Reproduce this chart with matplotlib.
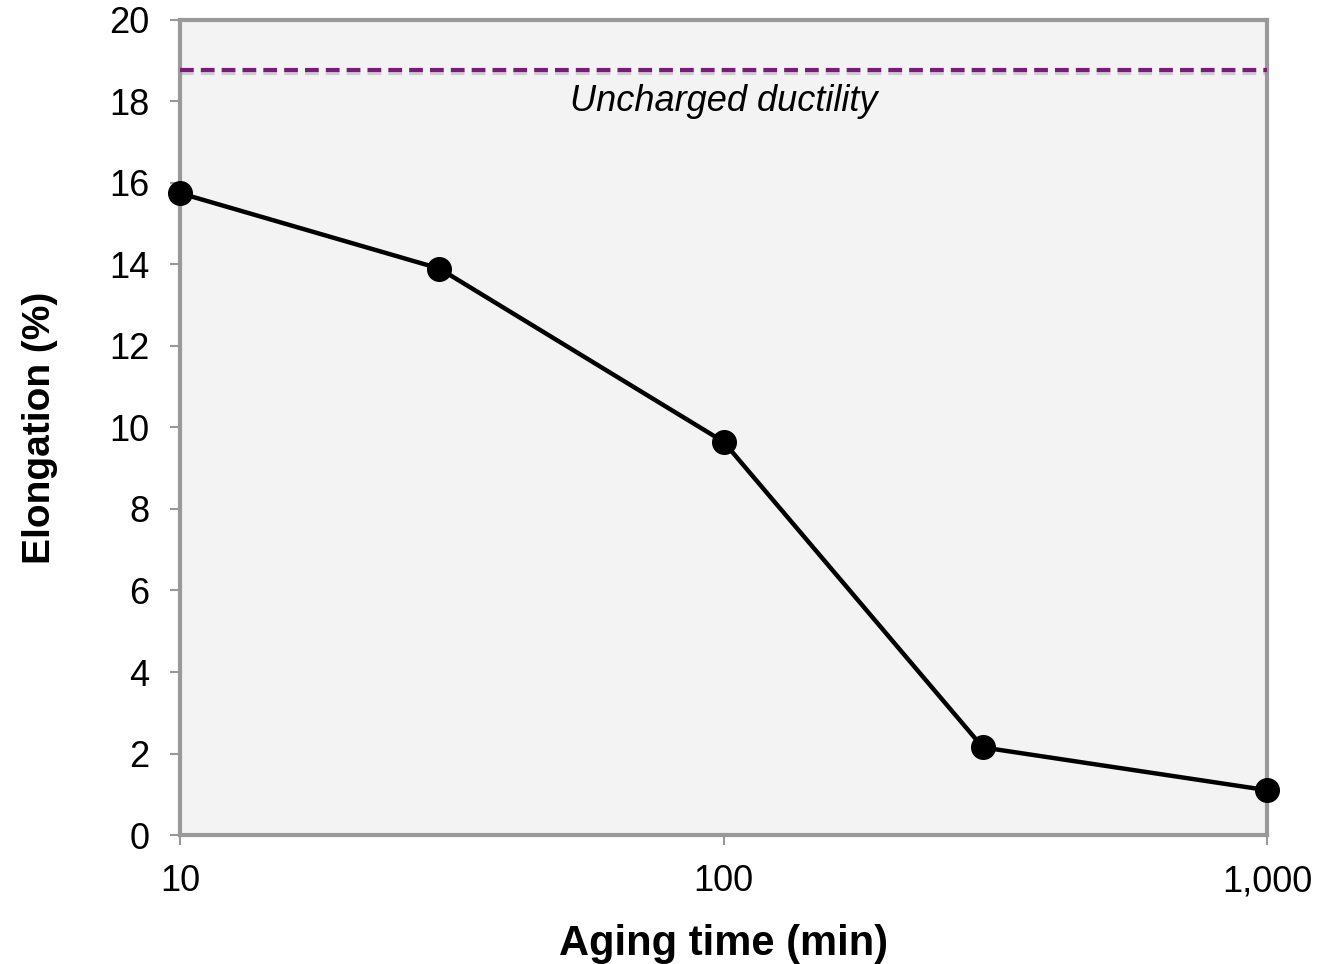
import numpy as np
import matplotlib.pyplot as plt
from matplotlib.ticker import FuncFormatter

plt.rcParams['font.family'] = ['Liberation Sans', 'DejaVu Sans']

aging_time = [10, 30, 100, 300, 1000]
elongation = [15.75, 13.9, 9.65, 2.15, 1.1]
uncharged = 18.77

fig = plt.figure(figsize=(13.19, 9.64), dpi=100)
ax = fig.add_axes([0.1365, 0.1338, 0.8241, 0.8455])
ax.set_facecolor('#f3f3f3')

# dashed reference line with a faint shadow underneath
ax.axhline(uncharged - 0.08, color='#a0a0a0', lw=3, ls=(0, (3.3, 1.7)), alpha=0.45, zorder=2)
ax.axhline(uncharged, color='#7b1a7b', lw=3, ls=(0, (3.3, 1.7)), zorder=3)
ax.text(np.sqrt(10 * 1000), uncharged - 0.33, 'Uncharged ductility', style='italic',
        fontsize=26, ha='center', va='top')

ax.plot(aging_time, elongation, color='black', lw=3.2, marker='o', markersize=17, zorder=4,
        clip_on=False)

ax.set_xscale('log')
ax.set_xlim(10, 1000)
ax.set_ylim(0, 20)
ax.set_yticks(range(0, 21, 2))
ax.set_xticks([10, 100, 1000])
ax.xaxis.set_minor_locator(plt.NullLocator())
ax.xaxis.set_major_formatter(FuncFormatter(lambda v, p: f'{int(v):,}'))

for s in ax.spines.values():
    s.set_color('#999999')
    s.set_linewidth(3)
ax.tick_params(axis='both', colors='#999999', labelcolor='black', labelsize=26,
               width=1.5, length=7, direction='out')
ax.tick_params(axis='x', pad=14)
ax.tick_params(axis='y', pad=15)

ax.set_xlabel('Aging time (min)', fontsize=30, fontweight='bold', labelpad=18)
ax.set_ylabel('Elongation (%)', fontsize=28, fontweight='bold', labelpad=37)

fig.savefig('out.png', dpi=100)
